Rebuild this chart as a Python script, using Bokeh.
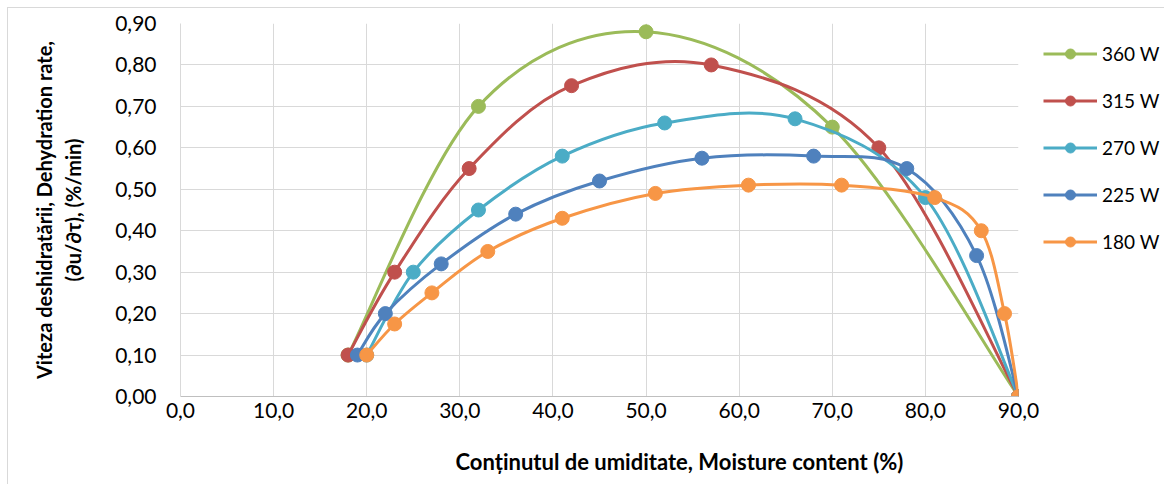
from bokeh.plotting import figure
from bokeh.models import ColumnDataSource, FixedTicker, Legend, LegendItem, Range1d, Title
from bokeh.embed import file_html
from bokeh.resources import INLINE

# ---------------- data ----------------
x_ticks = [0, 10, 20, 30, 40, 50, 60, 70, 80, 90]
x_tick_labels = ["0,0", "10,0", "20,0", "30,0", "40,0", "50,0", "60,0", "70,0", "80,0", "90,0"]
y_ticks = [0.0, 0.1, 0.2, 0.3, 0.4, 0.5, 0.6, 0.7, 0.8, 0.9]
y_tick_labels = ["0,00", "0,10", "0,20", "0,30", "0,40", "0,50", "0,60", "0,70", "0,80", "0,90"]

series_names = ["360 W", "315 W", "270 W", "225 W", "180 W"]
series_colors = ["#9BBB59", "#C0504D", "#4BACC6", "#4F81BD", "#F79646"]

x_360 = [18, 32, 50, 70, 90]
y_360 = [0.10, 0.70, 0.88, 0.65, 0.00]

x_315 = [18, 23, 31, 42, 57, 75, 90]
y_315 = [0.10, 0.30, 0.55, 0.75, 0.80, 0.60, 0.00]

x_270 = [20, 25, 32, 41, 52, 66, 80, 90]
y_270 = [0.10, 0.30, 0.45, 0.58, 0.66, 0.67, 0.48, 0.00]

x_225 = [19, 22, 28, 36, 45, 56, 68, 78, 85.5, 90]
y_225 = [0.10, 0.20, 0.32, 0.44, 0.52, 0.575, 0.58, 0.55, 0.34, 0.00]

x_180 = [20, 23, 27, 33, 41, 51, 61, 71, 81, 86, 88.5, 90]
y_180 = [0.10, 0.175, 0.25, 0.35, 0.43, 0.49, 0.51, 0.51, 0.48, 0.40, 0.20, 0.00]

series_x = [x_360, x_315, x_270, x_225, x_180]
series_y = [y_360, y_315, y_270, y_225, y_180]

x_title = "Conținutul de umiditate, Moisture content (%)"
y_title = "Viteza deshidratării, Dehydration rate,\n(∂u/∂τ), (%/min)"

FONT = "Lato"


def smooth_segments(xs, ys):
    """Bezier control points (Excel-like smoothed line) built from the data points."""
    n = len(xs)
    d = dict(x0=[], y0=[], x1=[], y1=[], cx0=[], cy0=[], cx1=[], cy1=[])
    for i in range(n - 1):
        i0 = max(i - 1, 0)
        i3 = min(i + 2, n - 1)
        d["x0"].append(xs[i]); d["y0"].append(ys[i])
        d["x1"].append(xs[i + 1]); d["y1"].append(ys[i + 1])
        d["cx0"].append(xs[i] + (xs[i + 1] - xs[i0]) / 6.0)
        d["cy0"].append(ys[i] + (ys[i + 1] - ys[i0]) / 6.0)
        d["cx1"].append(xs[i + 1] - (xs[i3] - xs[i]) / 6.0)
        d["cy1"].append(ys[i + 1] - (ys[i3] - ys[i]) / 6.0)
    return d


p = figure(
    frame_width=838, frame_height=373,
    min_border_left=172, min_border_right=140, min_border_top=15, min_border_bottom=80,
    x_range=Range1d(0, 90), y_range=Range1d(0, 0.9),
    output_backend="svg", toolbar_location=None,
)
p.styles = {
    "margin-left": "7px", "margin-top": "7px",
    "border-left": "1px solid #D9D9D9", "border-top": "1px solid #D9D9D9",
}
p.outline_line_color = None
p.background_fill_color = "white"
p.border_fill_color = "white"

for ax, ticks, labels in ((p.xaxis[0], x_ticks, x_tick_labels), (p.yaxis[0], y_ticks, y_tick_labels)):
    ax.ticker = FixedTicker(ticks=ticks)
    ax.major_label_overrides = dict(zip(ticks, labels))
    ax.major_tick_out = 0
    ax.major_tick_in = 0
    ax.minor_tick_out = 0
    ax.minor_tick_in = 0
    ax.major_label_text_font = FONT
    ax.major_label_text_font_size = "21px"
    ax.major_label_text_color = "#000000"
    ax.axis_label_text_font = FONT
    ax.axis_label_text_font_style = "bold"
    ax.axis_label_text_color = "#000000"

p.yaxis.axis_label = y_title
p.yaxis.axis_label_text_font_size = "20px"
p.xaxis.axis_line_color = "#BFBFBF"
p.yaxis.axis_line_color = "#D9D9D9"
p.xaxis.major_label_standoff = 6
p.yaxis.major_label_standoff = 24
p.yaxis.axis_label_standoff = 27

p.xgrid.ticker = FixedTicker(ticks=x_ticks)
p.ygrid.ticker = FixedTicker(ticks=y_ticks)
p.grid.grid_line_color = "#D9D9D9"
p.grid.grid_line_width = 1

# x axis title, placed below the axis, right of the frame centre as in the reference
p.add_layout(Title(
    text=x_title, align="left", offset=275, standoff=50,
    text_font=FONT, text_font_size="22px", text_font_style="bold", text_color="#000000",
), "below")

items = []
for name, color, xs, ys in zip(series_names, series_colors, series_x, series_y):
    src = ColumnDataSource(smooth_segments(xs, ys))
    r_line = p.bezier(x0="x0", y0="y0", x1="x1", y1="y1", cx0="cx0", cy0="cy0",
                      cx1="cx1", cy1="cy1", source=src, line_color=color, line_width=3)
    r_pts = p.scatter(x=xs, y=ys, size=14, marker="circle", fill_color=color, line_color=color)
    items.append(LegendItem(label=name, renderers=[r_line, r_pts]))

legend = Legend(
    items=items, location=(25, 142),
    border_line_color=None, background_fill_alpha=0,
    padding=0, margin=0,
    label_text_font=FONT, label_text_font_size="19px", label_text_color="#000000",
    glyph_width=54, glyph_height=25, label_height=20, spacing=22, label_standoff=5,
)
p.add_layout(legend, "right")

open("out.html", "w").write(file_html(p, INLINE))
